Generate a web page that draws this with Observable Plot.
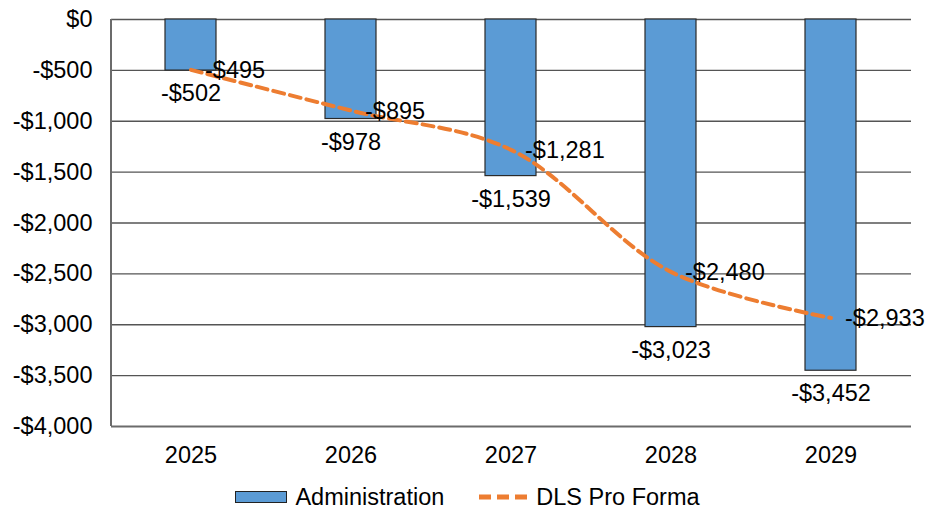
<!DOCTYPE html>
<html>
<head>
<meta charset="utf-8">
<script src="https://cdn.jsdelivr.net/npm/d3@7"></script>
<script src="https://cdn.jsdelivr.net/npm/@observablehq/plot@0.6"></script>
<style>
  html, body { margin: 0; padding: 0; background: #fff; }
  #chart { width: 930px; height: 510px; font-family: "Liberation Sans", Arial, sans-serif; }
  .legend { display: flex; justify-content: center; align-items: center; font-size: 23.5px; color: #000; height: 30px; margin-top: 7px; padding-left: 5px; }
  .legend .item { display: flex; align-items: center; gap: 8px; }
  .legend .item + .item { margin-left: 34px; }
  .sw-bar { width: 52px; height: 12px; background: #5B9BD5; border: 1px solid #222; box-sizing: border-box; }
</style>
</head>
<body>
<div id="chart"></div>
<script>
const years = ["2025", "2026", "2027", "2028", "2029"];
const administration = [-502, -978, -1539, -3023, -3452];
const dlsProForma = [-495, -895, -1281, -2480, -2933];
const yTicks = [0, -500, -1000, -1500, -2000, -2500, -3000, -3500, -4000];

const barData = years.map((y, i) => ({year: y, value: administration[i]}));
const lineData = years.map((y, i) => ({year: y, value: dlsProForma[i]}));

const fmt = v => v === 0 ? "$0" : (v < 0 ? "-$" : "$") + d3.format(",")(Math.abs(v));

const plot = Plot.plot({
  width: 930,
  height: 475,
  marginLeft: 111,
  marginRight: 19,
  marginTop: 19,
  marginBottom: 49,
  style: {fontFamily: "'Liberation Sans', Arial, sans-serif", fontSize: "23.5px", color: "#000", background: "#fff"},
  x: {domain: years, label: null, padding: 0.68, paddingOuter: 0.34, tickSize: 0, tickPadding: 20},
  y: {domain: [-4000, 0], ticks: yTicks, tickFormat: fmt, label: null, tickSize: 0, tickPadding: 19},
  marks: [
    Plot.ruleY(yTicks.filter(t => t !== -4000), {stroke: "#555", strokeWidth: 1.3, strokeOpacity: 1}),
    Plot.barY(barData, {x: "year", y: "value", fill: "#5B9BD5", stroke: "#2a2a2a", strokeWidth: 1.2}),
    Plot.ruleY([-4000], {stroke: "#6b6b6b", strokeWidth: 2}),
    Plot.ruleX([years[0]], {y1: 0, y2: -4000, stroke: "#6b6b6b", strokeWidth: 2, dx: -80}),
    Plot.line(lineData, {x: "year", y: "value", stroke: "#ED7D31", strokeWidth: 4, strokeDasharray: "11,6", curve: "catmull-rom"}),
    Plot.text(barData, {x: "year", y: "value", text: d => fmt(d.value), lineAnchor: "top", dy: 14, fontSize: 23.5, fill: "#000"}),
    Plot.text(lineData, {x: "year", y: "value", text: d => fmt(d.value), textAnchor: "start", dx: 14, dy: 1, fontSize: 23.5, fill: "#000"})
  ]
});

const chart = document.getElementById("chart");
chart.appendChild(plot);

const legend = document.createElement("div");
legend.className = "legend";
legend.innerHTML = `
  <div class="item"><div class="sw-bar"></div><span>Administration</span></div>
  <div class="item"><svg width="50" height="14"><line x1="1" y1="7" x2="49" y2="7" stroke="#ED7D31" stroke-width="5" stroke-dasharray="12,6" stroke-linecap="butt"/></svg><span>DLS Pro Forma</span></div>
`;
chart.appendChild(legend);
</script>
</body>
</html>
